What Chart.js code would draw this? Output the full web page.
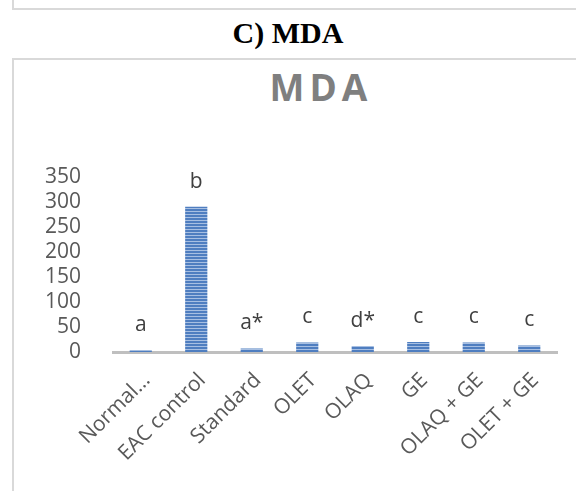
<!DOCTYPE html>
<html>
<head>
<meta charset="utf-8">
<script src="https://cdn.jsdelivr.net/npm/chart.js@4.4.1/dist/chart.umd.min.js"></script>
<style>
    body { margin: 0; width: 576px; height: 491px; overflow: hidden; background: #fff; position: relative; }
    .prev-box { position: absolute; left: 12px; top: -10px; width: 600px; height: 16px; border: 2px solid #d9d9d9; }
    .fig-title { position: absolute; left: 0; width: 576px; top: 16px; text-align: center;
        font-family: "Liberation Serif", serif; font-weight: bold; font-size: 30px; color: #000; }
    .frame { position: absolute; left: 12px; top: 58px; width: 600px; height: 500px; border: 2px solid #d9d9d9; }
    .chart-title { position: absolute; left: 0; width: 576px; padding-left: 66px; box-sizing: border-box; top: 61px; text-align: center;
        font-family: "Open Sans", sans-serif; font-weight: bold; font-size: 37px; letter-spacing: 5px; color: #7f7f7f; }
    #wrap { position: absolute; left: 0; top: 140px; width: 576px; height: 351px; }
</style>
</head>
<body>
<div class="prev-box"></div>
<div class="fig-title">C) MDA</div>
<div class="frame"></div>
<div class="chart-title">MDA</div>
<div id="wrap"><canvas id="mdaChart"></canvas></div>
<script>
const groups = ['Normal…', 'EAC control', 'Standard', 'OLET', 'OLAQ', 'GE', 'OLAQ + GE', 'OLET + GE'];
const mdaValues = [3, 290, 7, 19, 12, 20, 19, 13];
const letters = ['a', 'b', 'a*', 'c', 'd*', 'c', 'c', 'c'];
const yTicks = [0, 50, 100, 150, 200, 250, 300, 350];

// striped fill like the excel bars
function stripes() {
    const c = document.createElement('canvas');
    c.width = 4; c.height = 3;
    const g = c.getContext('2d');
    g.fillStyle = '#4f7ec0';
    g.fillRect(0, 0, 4, 3);
    g.fillStyle = '#a7bfe2';
    g.fillRect(0, 2, 4, 1);
    return g.createPattern(c, 'repeat');
}

const letterLabels = {
    id: 'letterLabels',
    afterDatasetsDraw(chart) {
        const ctx = chart.ctx;
        const bars = chart.getDatasetMeta(0).data;
        ctx.save();
        ctx.font = '21px "Open Sans"';
        ctx.fillStyle = '#404040';
        ctx.textAlign = 'center';
        ctx.textBaseline = 'middle';
        bars.forEach((bar, i) => {
            ctx.fillText(letters[i], bar.x, bar.y - 25);
        });
        ctx.restore();
    }
};

const ctx = document.getElementById('mdaChart').getContext('2d');

const mdaChart = new Chart(ctx, {
    type: 'bar',
    data: {
        labels: groups,
        datasets: [{
            label: 'MDA',
            data: mdaValues,
            backgroundColor: stripes(),
            barPercentage: 0.4,
            categoryPercentage: 1
        }]
    },
    options: {
        responsive: true,
        maintainAspectRatio: false,
        animation: false,
        layout: { padding: { top: 31, right: 19, left: 0, bottom: 0 } },
        plugins: {
            legend: { display: false },
            tooltip: { enabled: false }
        },
        scales: {
            x: {
                grid: { display: false },
                border: { display: true, color: '#bfbfbf', width: 3 },
                ticks: {
                    color: '#595959',
                    font: { family: 'Open Sans', size: 21 },
                    maxRotation: 45,
                    minRotation: 45,
                    autoSkip: false,
                    labelOffset: 6,
                    padding: 8
                },
                afterFit: (scale) => { scale.height = 139; }
            },
            y: {
                min: 0,
                max: 350,
                grid: { display: false },
                border: { display: false },
                afterBuildTicks: (scale) => { scale.ticks = yTicks.map(v => ({ value: v })); },
                ticks: {
                    color: '#595959',
                    font: { family: 'Open Sans', size: 21 },
                    autoSkip: false,
                    padding: 24
                },
                afterFit: (scale) => { scale.width = 113; }
            }
        }
    },
    plugins: [letterLabels]
});
</script>
</body>
</html>
